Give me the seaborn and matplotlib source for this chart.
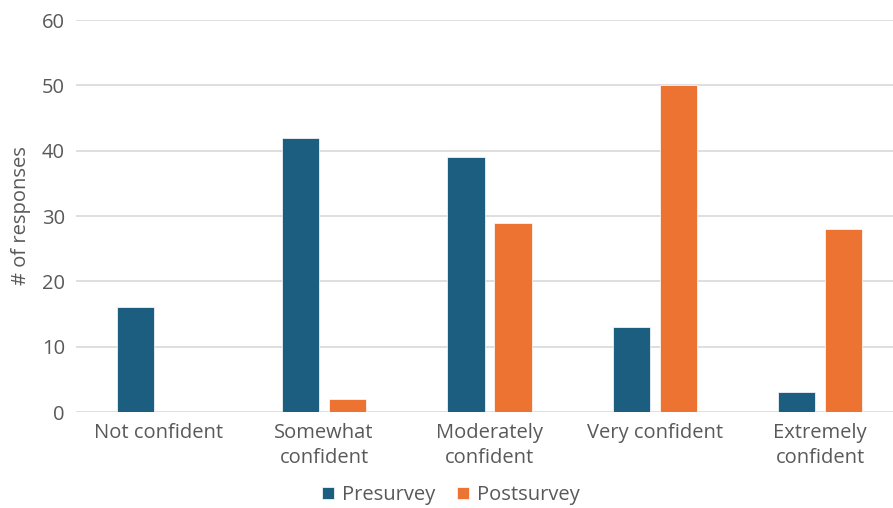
import matplotlib
matplotlib.use("Agg")
import matplotlib.pyplot as plt
import seaborn as sns
import pandas as pd

categories = ["Not confident", "Somewhat\nconfident", "Moderately\nconfident",
              "Very confident", "Extremely\nconfident"]
presurvey = [16, 42, 39, 13, 3]
postsurvey = [0, 2, 29, 50, 28]
series_names = ["Presurvey", "Postsurvey"]
y_ticks = [0, 10, 20, 30, 40, 50, 60]

df = pd.DataFrame({
    "category": categories * 2,
    "survey": [series_names[0]] * len(categories) + [series_names[1]] * len(categories),
    "responses": presurvey + postsurvey,
})

sns.set_theme(style="white")
plt.rcParams["font.family"] = ["Open Sans", "DejaVu Sans"]

fig = plt.figure(figsize=(8.93, 5.08), dpi=100)
ax = fig.add_axes([76 / 893, 96 / 508, 827 / 893, 392 / 508])

palette = {"Presurvey": "#1B5E80", "Postsurvey": "#EC7332"}
sns.barplot(data=df, x="category", y="responses", hue="survey", order=categories,
            hue_order=series_names, palette=palette, saturation=1,
            width=0.57, gap=0.21, edgecolor="white", linewidth=0.5,
            ax=ax, legend=True, zorder=3)

ax.set_ylim(0, 60)
ax.set_yticks(y_ticks)
ax.set_xlim(-0.5, len(categories) - 0.5)
ax.grid(axis="y", color="#D9D9D9", linewidth=1.2, zorder=0)
for s in ax.spines.values():
    s.set_visible(False)
ax.tick_params(axis="both", length=0, labelsize=14.5, colors="#595959", pad=8)
for lbl in ax.get_xticklabels():
    lbl.set_linespacing(1.3)
ax.set_xlabel("")
ax.set_ylabel("# of responses", fontsize=14.5, color="#595959", labelpad=8)

handles, labels = ax.get_legend_handles_labels()
ax.legend(handles, labels, loc="center", bbox_to_anchor=(0.5, 0.5), ncol=2,
          bbox_transform=fig.transFigure, frameon=False, fontsize=14.5,
          labelcolor="#595959", handlelength=0.6, handleheight=0.6,
          columnspacing=1.1, handletextpad=0.4).set_bbox_to_anchor(
              (451 / 893, 1 - 495 / 508), transform=fig.transFigure)

fig.savefig("out.png", dpi=100)
